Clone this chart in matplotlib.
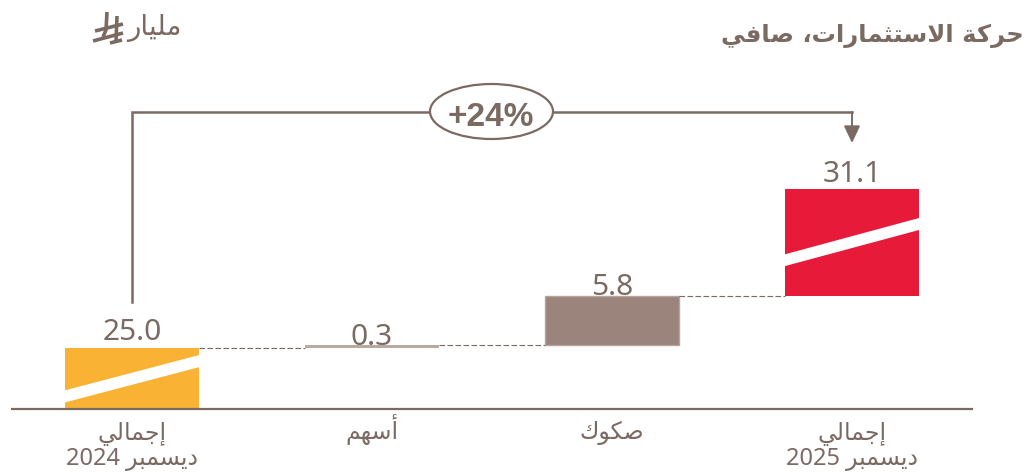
import matplotlib
matplotlib.use("Agg")
import matplotlib.pyplot as plt
from matplotlib.lines import Line2D
from matplotlib.patches import Ellipse, Polygon
import numpy as np

# matplotlib has no arabic shaping, so map to presentation forms by hand
# letter: (isolated, final, initial, medial)
FORMS = {
    "ا": (0xFE8D, 0xFE8E), "أ": (0xFE83, 0xFE84), "إ": (0xFE87, 0xFE88),
    "ة": (0xFE93, 0xFE94), "د": (0xFEA9, 0xFEAA), "ر": (0xFEAD, 0xFEAE),
    "و": (0xFEED, 0xFEEE),
    "ب": (0xFE8F, 0xFE90, 0xFE91, 0xFE92), "ت": (0xFE95, 0xFE96, 0xFE97, 0xFE98),
    "ث": (0xFE99, 0xFE9A, 0xFE9B, 0xFE9C), "ج": (0xFE9D, 0xFE9E, 0xFE9F, 0xFEA0),
    "ح": (0xFEA1, 0xFEA2, 0xFEA3, 0xFEA4), "س": (0xFEB1, 0xFEB2, 0xFEB3, 0xFEB4),
    "ص": (0xFEB9, 0xFEBA, 0xFEBB, 0xFEBC), "ف": (0xFED1, 0xFED2, 0xFED3, 0xFED4),
    "ك": (0xFED9, 0xFEDA, 0xFEDB, 0xFEDC), "ل": (0xFEDD, 0xFEDE, 0xFEDF, 0xFEE0),
    "م": (0xFEE1, 0xFEE2, 0xFEE3, 0xFEE4), "ه": (0xFEE9, 0xFEEA, 0xFEEB, 0xFEEC),
    "ي": (0xFEF1, 0xFEF2, 0xFEF3, 0xFEF4),
}


def shape_word(word):
    if word.isdigit():
        return word
    out = []
    i = 0
    prev_joins = False
    while i < len(word):
        c = word[i]
        if c not in FORMS:
            out.append(c)
            prev_joins = False
            i += 1
            continue
        if c == "ل" and i + 1 < len(word) and word[i + 1] == "ا":
            out.append(chr(0xFEFC if prev_joins else 0xFEFB))
            prev_joins = False
            i += 2
            continue
        next_ok = i + 1 < len(word) and word[i + 1] in FORMS
        can_join_next = len(FORMS[c]) == 4 and next_ok
        if prev_joins and can_join_next:
            form = FORMS[c][3]
        elif prev_joins:
            form = FORMS[c][1]
        elif can_join_next:
            form = FORMS[c][2]
        else:
            form = FORMS[c][0]
        out.append(chr(form))
        prev_joins = can_join_next
        i += 1
    return "".join(reversed(out))


def ar(text):
    lines = []
    for line in text.split("\n"):
        lines.append(" ".join(shape_word(w) for w in reversed(line.split(" "))))
    return "\n".join(lines)


title = "حركة الاستثمارات، صافي"
unit = "مليار"
categories = ["إجمالي\nديسمبر 2024", "أسهم", "صكوك", "إجمالي\nديسمبر 2025"]
values = [25.0, 0.3, 5.8, 31.1]
change = "+24%"

TEXT = "#7b6a62"
YELLOW = "#f9b233"
RED = "#e71a39"
TAUPE = "#9a847b"
FONT = ["Noto Sans", "DejaVu Sans"]

W, H = 1026, 472
px_per_unit = 8.52
base_px = 408.5
level0_px = 348.0
bar_w = 134 / 240
last_bar_h = 107 / px_per_unit


def fx(x):
    return x / W


def fy(y):
    return 1 - y / H


fig = plt.figure(figsize=(W / 100, H / 100), dpi=100)
ax = fig.add_axes([fx(12), fy(base_px), 960 / W, base_px / H])
ymin = values[0] - (base_px - level0_px) / px_per_unit
ax.set_xlim(-0.5, 3.5)
ax.set_ylim(ymin, ymin + base_px / px_per_unit)

x = np.arange(len(values))
level1 = values[0] + values[1]
level2 = level1 + values[2]

bars = ax.bar(x, [values[0] - ymin, values[1], values[2], last_bar_h],
              bottom=[ymin, values[0], level1, level2], width=bar_w,
              color=[YELLOW, "#b8a9a1", TAUPE, RED], linewidth=0)
bars[2].set_edgecolor("#b5a59c")
bars[2].set_linewidth(1)

# white slash through the two total bars (fractions of bar height)
slashes = {0: (0.10, 0.30, 0.683, 0.883), 3: (0.28, 0.39, 0.617, 0.729)}
for i, (l0, l1, r0, r1) in slashes.items():
    b = bars[i]
    x0, x1 = b.get_x(), b.get_x() + b.get_width()
    y0, h = b.get_y(), b.get_height()
    ax.add_patch(Polygon([(x0, y0 + l0 * h), (x0, y0 + l1 * h), (x1, y0 + r1 * h), (x1, y0 + r0 * h)],
                         closed=True, fc="white", ec="none", zorder=3))

# dashed connectors
for i, lev in enumerate([values[0], level1, level2]):
    ax.plot([i + bar_w / 2, i + 1 - bar_w / 2], [lev, lev], color=TEXT, lw=0.8,
            dashes=(5, 2.2), zorder=1)

label_off = [5.5, 0.5, 0.5, 5]
for i, (v, off) in enumerate(zip(values, label_off)):
    top = bars[i].get_y() + bars[i].get_height()
    ax.annotate(f"{v:.1f}", (i, top), xytext=(0, off), textcoords="offset points",
                ha="center", va="baseline", color=TEXT, fontsize=21.5, family=FONT, zorder=5)

for side in ["top", "left", "right"]:
    ax.spines[side].set_visible(False)
ax.spines["bottom"].set_color(TEXT)
ax.spines["bottom"].set_linewidth(1.6)
ax.set_yticks([])
ax.set_xticks(x)
ax.set_xticklabels([ar(c) for c in categories], color=TEXT, fontsize=17, family=FONT, linespacing=1.05)
ax.tick_params(axis="x", length=0)
for tick, pad in zip(ax.get_xaxis().get_major_ticks(), [9.5, 4, 9, 9.5]):
    tick.set_pad(pad)

# growth bracket from the first total to the last one
bracket_y = ymin + (base_px - 112) / px_per_unit
arrow_y = ymin + (base_px - 143) / px_per_unit
ax.plot([0, 0, 3], [ymin + (base_px - 302) / px_per_unit, bracket_y, bracket_y], color=TEXT, lw=1.8,
        solid_joinstyle="miter", zorder=2)
ax.annotate("", xy=(3, arrow_y), xytext=(3, bracket_y),
            arrowprops=dict(arrowstyle="-|>,head_length=0.8,head_width=0.38", color=TEXT, lw=1.4,
                            shrinkA=0, shrinkB=0, mutation_scale=13))

fig.add_artist(Ellipse((fx(491.5), fy(111.5)), 123 / W, 55 / H, fc="white", ec=TEXT, lw=1.6,
                       transform=fig.transFigure, zorder=6))
fig.text(fx(491), fy(117), change, ha="center", va="center", color=TEXT, fontsize=24,
         fontweight="bold", family=["Liberation Sans"], zorder=7)

fig.text(fx(1024), fy(42), ar(title), ha="right", va="baseline", color=TEXT, fontsize=17.5,
         fontweight="bold", family=["DejaVu Sans"])
fig.text(fx(182), fy(35), ar(unit), ha="right", va="baseline", color=TEXT, fontsize=20,
         family=["DejaVu Sans"])

# riyal sign, not in any installed font
sign = [[(107, 12), (106, 30), (103, 37)], [(117, 16), (116, 42)],
        [(95, 31), (123, 24)], [(93, 41), (123, 33)], [(110, 43), (122, 40)]]
for seg in sign:
    xs, ys = zip(*seg)
    fig.add_artist(Line2D([fx(a) for a in xs], [fy(b) for b in ys], color=TEXT, lw=2.6,
                          transform=fig.transFigure, solid_capstyle="butt"))

fig.savefig("out.png", dpi=100)
